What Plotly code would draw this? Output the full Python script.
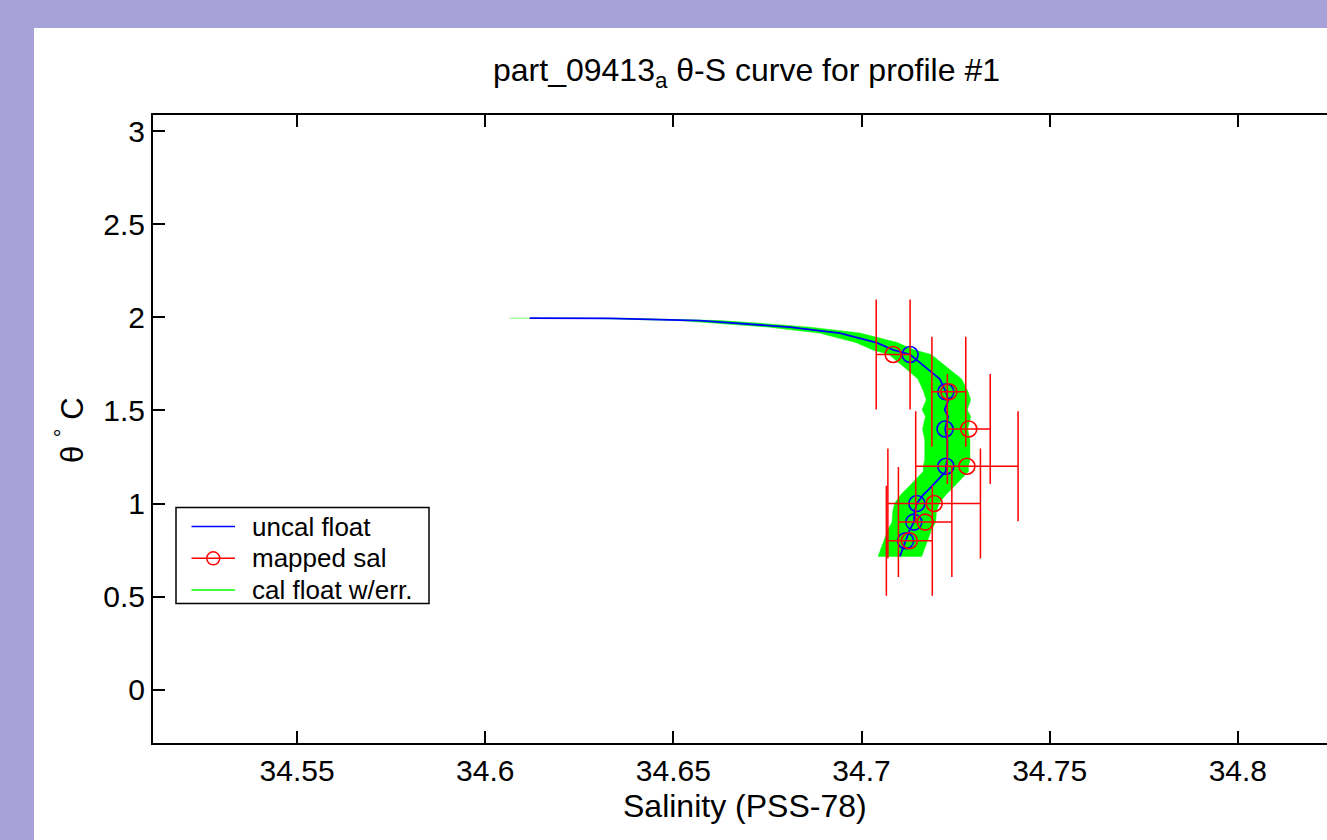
import plotly.graph_objects as go

# ---------------- data ----------------
# uncalibrated float profile
uncal_theta = [1.995, 1.994, 1.982, 1.968, 1.947, 1.915, 1.864, 1.825, 1.800, 1.727,
               1.668, 1.600, 1.557, 1.503, 1.467, 1.400, 1.342, 1.235, 1.200, 1.172,
               1.145, 1.091, 1.047, 1.000, 0.957, 0.900, 0.859, 0.800, 0.716]
uncal_sal = [34.6118, 34.6331, 34.6570, 34.6676, 34.6809, 34.6942, 34.7040, 34.7084, 34.7129, 34.7173,
             34.7208, 34.7224, 34.7231, 34.7221, 34.7230, 34.7222, 34.7228, 34.7228, 34.7224, 34.7224,
             34.7212, 34.7186, 34.7164, 34.7147, 34.7141, 34.7139, 34.7128, 34.7117, 34.7102]

# calibrated float profile with error
cal_sal = [34.6118, 34.6331, 34.6570, 34.6676, 34.6809, 34.6942, 34.7040, 34.7084, 34.7129, 34.7173,
           34.7208, 34.7224, 34.7231, 34.7221, 34.7230, 34.7222, 34.7228, 34.7228, 34.7224, 34.7224,
           34.7212, 34.7186, 34.7164, 34.7147, 34.7141, 34.7139, 34.7128, 34.7117, 34.7102]
cal_err = [0.0054, 0.0054, 0.0054, 0.0054, 0.0054, 0.0054, 0.0055, 0.0055, 0.0056, 0.0057,
           0.0058, 0.0059, 0.0059, 0.0060, 0.0060, 0.0060, 0.0060, 0.0060, 0.0060, 0.0060,
           0.0060, 0.0060, 0.0060, 0.0059, 0.0058, 0.0058, 0.0058, 0.0058, 0.0058]

# selected theta levels
level_theta = [1.8, 1.6, 1.4, 1.2, 1.0, 0.9, 0.8]
uncal_at_levels = [34.7129, 34.7224, 34.7222, 34.7224, 34.7147, 34.7139, 34.7117]
mapped_sal = [34.7084, 34.7232, 34.7285, 34.7280, 34.7193, 34.7169, 34.7127]
mapped_err = [0.0045, 0.0045, 0.0057, 0.0136, 0.0123, 0.0071, 0.0061]

x_tickvals = [34.55, 34.60, 34.65, 34.70, 34.75, 34.80]
x_ticktext = ["34.55", "34.6", "34.65", "34.7", "34.75", "34.8"]
y_tickvals = [0, 0.5, 1, 1.5, 2, 2.5, 3]
y_ticktext = ["0", "0.5", "1", "1.5", "2", "2.5", "3"]

legend_names = ["uncal float", "mapped sal", "cal float w/err."]

x_range = [34.5117, 34.8237]
y_range = [-0.286, 3.086]

# ---------------- style ----------------
FONT = "Liberation Sans, Arial, Helvetica, sans-serif"
BLUE = "#0000FF"
RED = "#FF0000"
GREEN = "#00FF00"
legend_colors = [BLUE, RED, GREEN]

L, T, R, B = 153, 115, 0, 97
W, H = 1327, 840
pw = W - L - R
ph = H - T - B


def px_x(p):
    return (p - L) / pw


def px_y(p):
    return (H - B - p) / ph


fig = go.Figure()

# green error band (cal float +/- err)
band_x = [s - e for s, e in zip(cal_sal, cal_err)] + [s + e for s, e in zip(cal_sal[::-1], cal_err[::-1])]
band_y = list(uncal_theta) + list(uncal_theta[::-1])
fig.add_trace(go.Scatter(x=band_x, y=band_y, mode="lines", fill="toself",
                         fillcolor=GREEN, line=dict(color=GREEN, width=0.5),
                         name=legend_names[2], showlegend=False, hoverinfo="skip"))

# uncal float line
fig.add_trace(go.Scatter(x=uncal_sal, y=uncal_theta, mode="lines", name=legend_names[0],
                         line=dict(color=BLUE, width=1.8), showlegend=False))
# uncal circles
fig.add_trace(go.Scatter(x=uncal_at_levels, y=level_theta, mode="markers", name=legend_names[0],
                         marker=dict(symbol="circle-open", size=16, color=BLUE,
                                     line=dict(width=1.6, color=BLUE)),
                         showlegend=False))

# mapped salinity with horizontal error bars
fig.add_trace(go.Scatter(x=mapped_sal, y=level_theta, mode="markers", name=legend_names[1],
                         marker=dict(symbol="circle-open", size=16, color=RED,
                                     line=dict(width=1.6, color=RED)),
                         error_x=dict(type="data", array=mapped_err, visible=True,
                                      color=RED, thickness=1.5, width=55),
                         showlegend=False))

# ---------------- legend (drawn as a box) ----------------
box_l, box_r, box_t, box_b = 176, 429, 507.5, 603.5
row_y = [526.5, 558.3, 590]
line_l, line_r, text_x = 191.5, 235, 250

shapes = [dict(type="rect", xref="paper", yref="paper",
               x0=px_x(34), x1=px_x(W + 5), y0=px_y(H + 5), y1=px_y(28),
               fillcolor="white", line=dict(width=0), layer="below"),
          dict(type="rect", xref="paper", yref="paper",
               x0=px_x(box_l), x1=px_x(box_r), y0=px_y(box_b), y1=px_y(box_t),
               fillcolor="white", line=dict(color="black", width=1.5), layer="above")]
annotations = []
for name, col, ry in zip(legend_names, legend_colors, row_y):
    shapes.append(dict(type="line", xref="paper", yref="paper",
                       x0=px_x(line_l), x1=px_x(line_r), y0=px_y(ry), y1=px_y(ry),
                       line=dict(color=col, width=1.5), layer="above"))
    annotations.append(dict(text=name, xref="paper", yref="paper",
                            x=px_x(text_x), y=px_y(ry), xanchor="left", yanchor="middle",
                            showarrow=False, font=dict(family=FONT, size=26, color="black")))
# circle symbol for the mapped sal entry
shapes.append(dict(type="circle", xref="paper", yref="paper",
                   xsizemode="pixel", ysizemode="pixel",
                   xanchor=px_x((line_l + line_r) / 2), yanchor=px_y(row_y[1]),
                   x0=-6.5, x1=6.5, y0=-6.5, y1=6.5,
                   fillcolor="rgba(0,0,0,0)", line=dict(color=RED, width=1.4), layer="above"))

annotations += [
    dict(text="part_09413<sub>a</sub> θ-S curve for profile #1", xref="paper", yref="paper",
         x=px_x(746), y=px_y(72), xanchor="center", yanchor="middle", showarrow=False,
         font=dict(family=FONT, size=32, color="black")),
    dict(text="Salinity (PSS-78)", xref="paper", yref="paper",
         x=px_x(745), y=px_y(806), xanchor="center", yanchor="middle", showarrow=False,
         font=dict(family=FONT, size=32, color="black")),
    dict(text="θ <sup>°</sup> C", xref="paper", yref="paper",
         x=px_x(70), y=px_y(430), xanchor="center", yanchor="middle", showarrow=False,
         textangle=-90, font=dict(family=FONT, size=31, color="black")),
]

fig.update_layout(
    width=W, height=H,
    margin=dict(l=L, r=R, t=T, b=B, pad=0),
    paper_bgcolor="#A7A3D8",
    plot_bgcolor="white",
    font=dict(family=FONT, size=30, color="black"),
    showlegend=False,
    shapes=shapes,
    annotations=annotations,
)

fig.update_xaxes(range=x_range, tickvals=x_tickvals, ticktext=x_ticktext,
                 ticks="inside", ticklen=12, tickwidth=1.5, tickcolor="black",
                 showline=True, linecolor="black", linewidth=2, mirror="ticks",
                 showgrid=False, zeroline=False,
                 tickfont=dict(family=FONT, size=30, color="black"))
fig.update_yaxes(range=y_range, tickvals=y_tickvals, ticktext=y_ticktext,
                 ticks="inside", ticklen=12, tickwidth=1.5, tickcolor="black",
                 showline=True, linecolor="black", linewidth=2, mirror=False,
                 showgrid=False, zeroline=False,
                 tickfont=dict(family=FONT, size=30, color="black"))

fig.write_html("out.html")
